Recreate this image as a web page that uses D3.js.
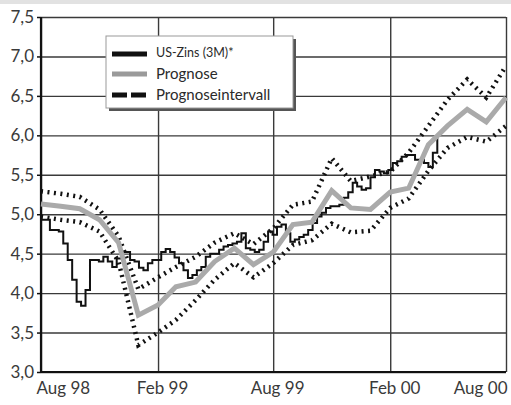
<!DOCTYPE html>
<html>
<head>
<meta charset="utf-8">
<script src="https://cdn.jsdelivr.net/npm/d3@7"></script>
<style>
    body { margin: 0; background: #fff; }
    svg { display: block; font-family: Lato, "Open Sans", sans-serif; }
</style>
</head>
<body>
<div id="chart"></div>
<script>
(function(d3) {
    'use strict';

    // monthly forecast + interval (Aug 98 .. Aug 00)
    var months = ["1998-08", "1998-09", "1998-10", "1998-11", "1998-12",
        "1999-01", "1999-02", "1999-03", "1999-04", "1999-05", "1999-06", "1999-07",
        "1999-08", "1999-09", "1999-10", "1999-11", "1999-12",
        "2000-01", "2000-02", "2000-03", "2000-04", "2000-05", "2000-06", "2000-07", "2000-08"];
    var prognose = [5.13, 5.10, 5.07, 4.93, 4.64, 3.72, 3.85, 4.08, 4.14, 4.40, 4.57, 4.36,
        4.52, 4.87, 4.90, 5.30, 5.08, 5.06, 5.28, 5.33, 5.88, 6.12, 6.33, 6.17, 6.48];
    var upperBand = [5.29, 5.26, 5.22, 5.06, 4.72, 4.05, 4.20, 4.33, 4.46, 4.64, 4.76, 4.62,
        4.82, 5.12, 5.16, 5.71, 5.42, 5.48, 5.54, 5.78, 6.12, 6.45, 6.71, 6.48, 6.88];
    var lowerBand = [4.97, 4.93, 4.90, 4.78, 4.40, 3.34, 3.50, 3.66, 3.91, 4.17, 4.38, 4.20,
        4.38, 4.61, 4.67, 4.88, 4.77, 4.79, 5.08, 5.20, 5.55, 5.84, 5.98, 5.92, 6.12];

    // weekly 3M rate, starting at usStart
    var usStart = "1998-08-01";
    var usWeekly = [4.93, 4.93, 4.80, 4.80, 4.78, 4.63, 4.42, 4.17, 3.89, 3.84,
        4.04, 4.42, 4.42, 4.40, 4.46, 4.40, 4.33, 4.44, 4.52, 4.52,
        4.42, 4.40, 4.32, 4.29, 4.38, 4.42, 4.42, 4.52, 4.56, 4.52,
        4.45, 4.38, 4.29, 4.19, 4.23, 4.29, 4.33, 4.46, 4.50, 4.50,
        4.55, 4.59, 4.61, 4.63, 4.65, 4.76, 4.57, 4.55, 4.52, 4.55,
        4.65, 4.78, 4.74, 4.84, 4.87, 4.76, 4.65, 4.68, 4.71, 4.74,
        4.80, 4.89, 4.97, 5.02, 5.08, 5.10, 5.10, 5.12, 5.21, 5.28,
        5.40, 5.35, 5.31, 5.33, 5.47, 5.56, 5.54, 5.52, 5.56, 5.65,
        5.67, 5.73, 5.75, 5.75, 5.69, 5.69, 5.65, 5.60, 5.78, 6.00];

    var xTicks = ["1998-08", "1999-02", "1999-08", "2000-02", "2000-08"];
    var xTickLabels = ["Aug 98", "Feb 99", "Aug 99", "Feb 00", "Aug 00"];
    var yTicks = [3.0, 3.5, 4.0, 4.5, 5.0, 5.5, 6.0, 6.5, 7.0, 7.5];
    var legendLabels = ["US-Zins (3M)*", "Prognose", "Prognoseintervall"];

    var width = 511, height = 405;
    var margin = { top: 17, right: 5, bottom: 33, left: 41 };

    var parseMonth = d3.timeParse("%Y-%m");
    var parseDay = d3.timeParse("%Y-%m-%d");
    var de = d3.formatLocale({ decimal: ",", thousands: ".", grouping: [3], currency: ["", " €"] });
    var fmt = de.format(".1f");

    var x = d3.scaleTime()
        .domain([parseMonth(months[0]), parseMonth(months[months.length - 1])])
        .range([margin.left, width - margin.right]);
    var y = d3.scaleLinear()
        .domain([3, 7.5])
        .range([height - margin.bottom, margin.top]);

    var svg = d3.select("#chart").append("svg")
        .attr("width", width)
        .attr("height", height);

    svg.append("rect")
        .attr("x", 0).attr("y", 0)
        .attr("width", width).attr("height", 4)
        .attr("fill", "#e2e2e2");

    // grid
    var gridY = svg.append("g")
        .attr("transform", "translate(" + margin.left + ",0)")
        .call(d3.axisLeft(y).tickValues(yTicks).tickSize(-(width - margin.left - margin.right)).tickFormat(""));
    gridY.select(".domain").remove();
    gridY.selectAll("line").attr("stroke", "#3a3a3a").attr("stroke-width", 1.4);

    var gridX = svg.append("g")
        .attr("transform", "translate(0," + margin.top + ")")
        .call(d3.axisBottom(x).tickValues(xTicks.map(parseMonth))
            .tickSize(height - margin.top - margin.bottom).tickFormat(""));
    gridX.select(".domain").remove();
    gridX.selectAll("line").attr("stroke", "#3a3a3a").attr("stroke-width", 1.4);

    // y labels
    var yAxis = svg.append("g")
        .attr("transform", "translate(" + margin.left + ",0)")
        .call(d3.axisLeft(y).tickValues(yTicks).tickSize(4).tickPadding(3).tickFormat(fmt));
    yAxis.select(".domain").remove();
    yAxis.selectAll("line").attr("stroke", "#111").attr("stroke-width", 1.5);
    yAxis.selectAll("text")
        .attr("fill", "#3a3a3a")
        .style("font-size", "17px")
        .style("font-family", "Lato, sans-serif");

    // x labels
    var xAxis = svg.append("g")
        .attr("transform", "translate(0," + (height - margin.bottom) + ")")
        .call(d3.axisBottom(x).tickValues(xTicks.map(parseMonth)).tickSize(0).tickPadding(10)
            .tickFormat(function(d, i) { return xTickLabels[i]; }));
    xAxis.select(".domain").remove();
    xAxis.selectAll("text")
        .attr("fill", "#3a3a3a")
        .style("font-size", "17px")
        .style("font-family", "Lato, sans-serif")
        .attr("text-anchor", function(d, i) {
            if (i === 0) return "start";
            if (i === xTicks.length - 1) return "end";
            return "middle";
        })
        .attr("x", function(d, i) {
            if (i === 0) return -5;
            if (i === xTicks.length - 1) return 1;
            return 4;
        });

    // axis lines
    svg.append("line")
        .attr("x1", margin.left).attr("x2", margin.left)
        .attr("y1", margin.top).attr("y2", height - margin.bottom + 1)
        .attr("stroke", "#111").attr("stroke-width", 2.2);
    svg.append("line")
        .attr("x1", margin.left - 1).attr("x2", width - margin.right)
        .attr("y1", height - margin.bottom).attr("y2", height - margin.bottom)
        .attr("stroke", "#111").attr("stroke-width", 2.2);

    // series
    var usData = usWeekly.map(function(v, i) {
        return { date: d3.timeDay.offset(parseDay(usStart), i * 7), value: v };
    });
    var monthly = months.map(function(m, i) {
        return { date: parseMonth(m), prognose: prognose[i], upper: upperBand[i], lower: lowerBand[i] };
    });

    var stepLine = d3.line()
        .curve(d3.curveStepAfter)
        .x(function(d) { return x(d.date); })
        .y(function(d) { return y(d.value); });

    function lineFor(key) {
        return d3.line()
            .x(function(d) { return x(d.date); })
            .y(function(d) { return y(d[key]); });
    }

    svg.append("path")
        .datum(usData)
        .attr("d", stepLine)
        .attr("fill", "none")
        .attr("stroke", "#111")
        .attr("stroke-width", 2);

    ["upper", "lower"].forEach(function(key) {
        svg.append("path")
            .datum(monthly)
            .attr("d", lineFor(key))
            .attr("fill", "none")
            .attr("stroke", "#111")
            .attr("stroke-width", 4.5)
            .attr("stroke-dasharray", "2,4.5");
    });

    svg.append("path")
        .datum(monthly)
        .attr("d", lineFor("prognose"))
        .attr("fill", "none")
        .attr("stroke", "#aaa")
        .attr("stroke-width", 5);

    // legend
    var legend = svg.append("g")
        .attr("transform", "translate(106,36)");
    legend.append("rect")
        .attr("x", 3).attr("y", 3)
        .attr("width", 187).attr("height", 72)
        .attr("fill", "#555");
    legend.append("rect")
        .attr("x", 0).attr("y", 0)
        .attr("width", 187).attr("height", 72)
        .attr("fill", "#fff")
        .attr("stroke", "#999")
        .attr("stroke-width", 1);

    var rows = [
        { y: 18, stroke: "#111", dash: null, size: 12.5, base: 21 },
        { y: 38, stroke: "#9a9a9a", dash: null, size: 15, base: 43 },
        { y: 59, stroke: "#111", dash: "15,4", size: 15, base: 64 }
    ];
    rows.forEach(function(r, i) {
        legend.append("line")
            .attr("x1", 6).attr("x2", 41)
            .attr("y1", r.y).attr("y2", r.y)
            .attr("stroke", r.stroke)
            .attr("stroke-width", 5)
            .attr("stroke-dasharray", r.dash);
        legend.append("text")
            .attr("x", 50)
            .attr("y", r.base)
            .attr("fill", "#2a2a2a")
            .style("font-size", r.size + "px")
            .text(legendLabels[i]);
    });

})(window.d3);
</script>
</body>
</html>
